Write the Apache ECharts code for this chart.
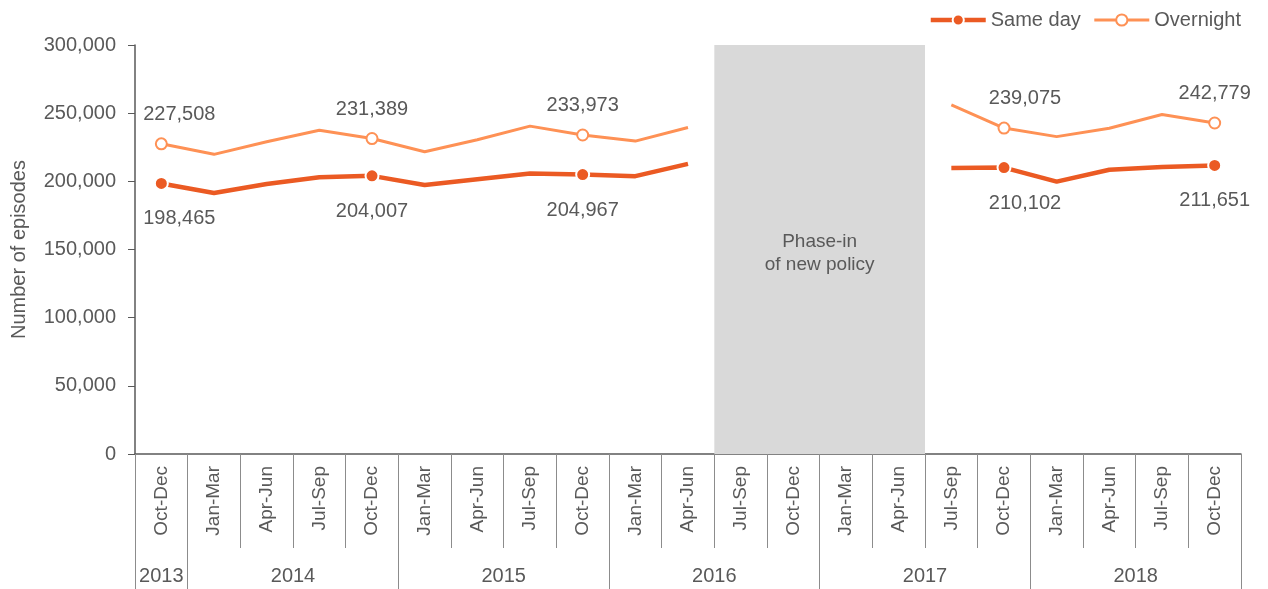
<!DOCTYPE html>
<html>
<head>
<meta charset="utf-8">
<script src="https://cdn.jsdelivr.net/npm/echarts@6/dist/echarts.min.js"></script>
<style>
  html, body { margin: 0; padding: 0; background: #fff; }
  #main { width: 1268px; height: 589px; }
</style>
</head>
<body>
<div id="main"></div>
<script>
// quarters, Oct-Dec 2013 .. Oct-Dec 2018
var quarters = ['Oct-Dec',
  'Jan-Mar', 'Apr-Jun', 'Jul-Sep', 'Oct-Dec',
  'Jan-Mar', 'Apr-Jun', 'Jul-Sep', 'Oct-Dec',
  'Jan-Mar', 'Apr-Jun', 'Jul-Sep', 'Oct-Dec',
  'Jan-Mar', 'Apr-Jun', 'Jul-Sep', 'Oct-Dec',
  'Jan-Mar', 'Apr-Jun', 'Jul-Sep', 'Oct-Dec'];
var years = ['2013', '2014', '2015', '2016', '2017', '2018'];
var quartersPerYear = [1, 4, 4, 4, 4, 4];

var sameDay = [198465, 191500, 198000, 203000, 204007, 197300, 201500, 205700, 204967, 203800, 212800,
  null, null, null, null, 209800, 210102, 199800, 208500, 210500, 211651];
var overnight = [227508, 219800, 229000, 237500, 231389, 221700, 230500, 240500, 233973, 229500, 239500,
  null, null, null, null, 256000, 239075, 232800, 238900, 249000, 242779];

var phaseText = 'Phase-in\nof new policy';

// year boundaries / centres on a 0..21 scale
var bounds = [0];
quartersPerYear.forEach(function (n) { bounds.push(bounds[bounds.length - 1] + n); });
var centres = years.map(function (y, i) { return (bounds[i] + bounds[i + 1]) / 2; });

// gap = quarters where the series are missing
var gapStart = sameDay.indexOf(null);
var gapEnd = sameDay.lastIndexOf(null) + 1;

var grey = '#595959';
var font = 'Liberation Sans, Arial, sans-serif';
var cSame = '#EB5A23';
var cOver = '#FE9155';

// label shifts for the first point of each run
var labelShift = { 0: 18, 16: 21 };

function build(values, above) {
  return values.map(function (v, i) {
    var mark = v !== null && quarters[i] === 'Oct-Dec';
    return {
      value: v,
      symbolSize: mark ? (above ? 11 : 13) : 0,
      label: {
        show: mark,
        position: above ? 'top' : 'bottom',
        distance: above ? 13 : 18,
        offset: [labelShift[i] || 0, 0]
      }
    };
  });
}

var myChart = echarts.init(document.getElementById('main'));
myChart.setOption({
  animation: false,
  textStyle: { fontFamily: font },
  legend: {
    right: 22,
    top: 5,
    itemWidth: 55,
    itemHeight: 14,
    itemGap: 12,
    selectedMode: false,
    data: [
      { name: 'Same day', lineStyle: { width: 4.5 } },
      { name: 'Overnight', lineStyle: { width: 3 } }
    ],
    textStyle: { color: grey, fontSize: 20, fontFamily: font }
  },
  grid: { left: 135, right: 27, top: 45, bottom: 135 },
  xAxis: [
    {
      type: 'category',
      data: quarters,
      boundaryGap: true,
      axisLine: { show: true, lineStyle: { color: grey, width: 1.5 } },
      axisTick: { show: true, interval: 0, length: 94, lineStyle: { color: '#8c8c8c' } },
      axisLabel: { interval: 0, rotate: 90, margin: 12, color: grey, fontSize: 19, fontFamily: font },
      splitLine: { show: false }
    },
    {
      type: 'value',
      min: 0,
      max: quarters.length,
      position: 'bottom',
      axisLine: { show: false },
      axisTick: { show: true, customValues: bounds, length: 135, lineStyle: { color: '#8c8c8c' } },
      axisLabel: {
        customValues: centres,
        margin: 112,
        color: grey,
        fontSize: 20,
        fontFamily: font,
        formatter: function (v) {
          for (var i = 0; i < centres.length; i++) {
            if (Math.abs(centres[i] - v) < 1e-6) return years[i];
          }
          return '';
        }
      },
      splitLine: { show: false }
    }
  ],
  yAxis: {
    type: 'value',
    min: 0,
    max: 300000,
    interval: 50000,
    name: 'Number of episodes',
    nameLocation: 'middle',
    nameRotate: 90,
    nameGap: 106,
    nameTextStyle: { color: grey, fontSize: 20, fontFamily: font },
    axisLine: { show: true, lineStyle: { color: grey, width: 1.5 } },
    axisTick: { show: true, length: 7, lineStyle: { color: grey } },
    axisLabel: {
      margin: 19,
      color: grey,
      fontSize: 20,
      fontFamily: font,
      formatter: function (v) { return v.toLocaleString('en-US'); }
    },
    splitLine: { show: false }
  },
  series: [
    {
      name: 'phase',
      type: 'line',
      xAxisIndex: 1,
      data: [],
      silent: true,
      markArea: {
        silent: true,
        itemStyle: { color: '#d9d9d9' },
        label: {
          show: true,
          position: 'inside',
          offset: [0, 4],
          formatter: phaseText,
          color: grey,
          fontSize: 19,
          lineHeight: 23,
          fontFamily: font
        },
        data: [[{ xAxis: gapStart }, { xAxis: gapEnd }]]
      }
    },
    {
      name: 'Same day',
      type: 'line',
      symbol: 'circle',
      symbolSize: 13,
      color: cSame,
      lineStyle: { color: cSame, width: 4.5 },
      itemStyle: { color: cSame, borderColor: '#fff', borderWidth: 2 },
      label: { color: grey, fontSize: 20, fontFamily: font, formatter: function (p) { return p.value.toLocaleString('en-US'); } },
      data: build(sameDay, false),
      z: 3
    },
    {
      name: 'Overnight',
      type: 'line',
      symbol: 'emptyCircle',
      symbolSize: 11,
      color: cOver,
      lineStyle: { color: cOver, width: 3 },
      itemStyle: { color: cOver, borderColor: cOver, borderWidth: 2.5 },
      label: { color: grey, fontSize: 20, fontFamily: font, formatter: function (p) { return p.value.toLocaleString('en-US'); } },
      data: build(overnight, true),
      z: 3
    }
  ]
});
window.onresize = function () {
  myChart.resize();
};
</script>
</body>
</html>
